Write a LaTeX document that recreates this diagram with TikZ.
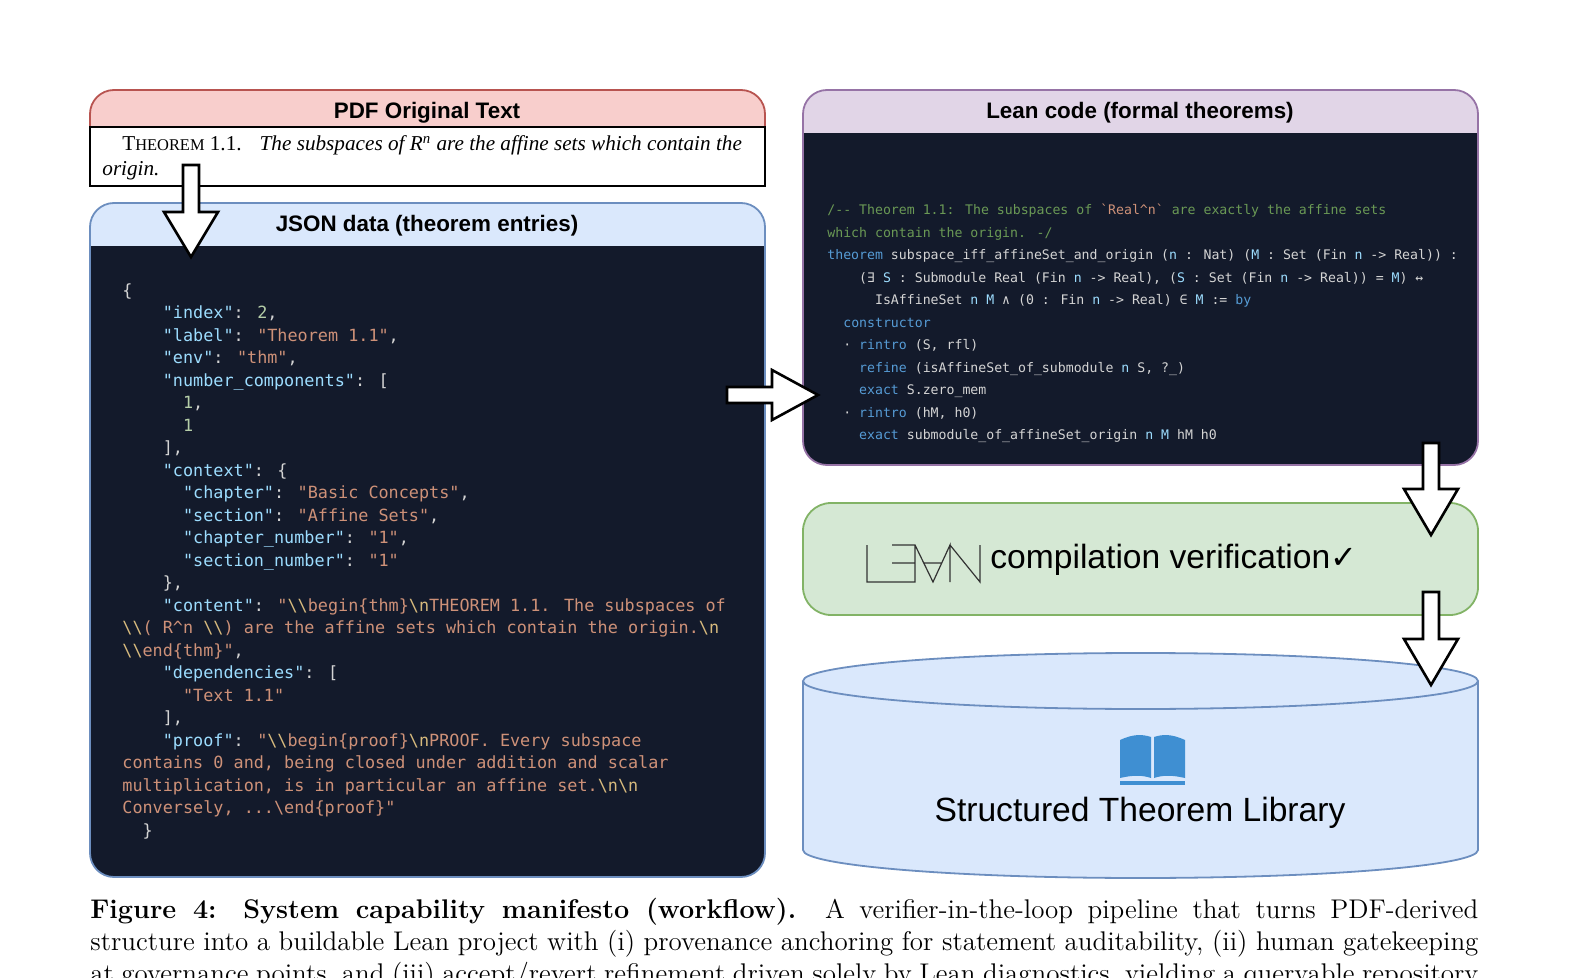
\documentclass[tikz,border=0pt]{standalone}
\usepackage{fontspec}
\setmainfont{Latin Modern Roman}
\newfontfamily\cmono[Ligatures=ResetAll]{DejaVu Sans Mono}
\newfontfamily\hsans{Liberation Sans}
\newfontfamily\tserif{Liberation Serif}
\newfontfamily\djv{DejaVu Sans}
\definecolor{codebg}{HTML}{131A2B}
\definecolor{jkey}{HTML}{9CDCFE}
\definecolor{jstr}{HTML}{CE9178}
\definecolor{jesc}{HTML}{D7BA7D}
\definecolor{jnum}{HTML}{B5CEA8}
\definecolor{jtxt}{HTML}{D4D4D4}
\definecolor{lcom}{HTML}{6A9955}
\definecolor{lkw}{HTML}{569CD6}
\definecolor{lvar}{HTML}{9CDCFE}
\definecolor{redfill}{HTML}{F8CECC}
\definecolor{redline}{HTML}{B85450}
\definecolor{bluefill}{HTML}{DAE8FC}
\definecolor{blueline}{HTML}{6C8EBF}
\definecolor{purfill}{HTML}{E1D5E7}
\definecolor{purline}{HTML}{9673A6}
\definecolor{grnfill}{HTML}{D5E8D4}
\definecolor{grnline}{HTML}{82B366}
\definecolor{bookblue}{HTML}{3F8FD2}
\newcommand\ind[1]{\hspace*{#1\fontcharwd\font`\x}}
\newcommand\jk[1]{\textcolor{jkey}{#1}}
\newcommand\js[1]{\textcolor{jstr}{#1}}
\newcommand\je[1]{\textcolor{jesc}{#1}}
\newcommand\jn[1]{\textcolor{jnum}{#1}}
\newcommand\lc[1]{\textcolor{lcom}{#1}}
\newcommand\lk[1]{\textcolor{lkw}{#1}}
\newcommand\lv[1]{\textcolor{lvar}{#1}}
\newcommand\bs{\textbackslash}
\newcommand\lb{\{}
\newcommand\rb{\}}
\tikzset{
  hdr/.style={font=\hsans\bfseries\fontsize{11.2}{13}\selectfont, text=black},
  blockarrow/.style={draw=black, fill=white, line width=1.3pt, line join=miter},
  jsoncode/.style={anchor=north west, align=left, inner sep=0, text=jtxt,
    font=\cmono\fontsize{8.4}{11.25}\selectfont},
  leancode/.style={anchor=north west, align=left, inner sep=0, text=jtxt,
    font=\cmono\fontsize{6.6}{11.25}\selectfont},
}
\begin{document}
\begin{tikzpicture}[x=0.5pt,y=-0.5pt]
\useasboundingbox (0,0) rectangle (1585,978);
% ---------- PDF box
\fill[redfill,rounded corners=12] (90,90) rectangle (765,127);
\fill[redfill] (90,110) rectangle (765,127);
\draw[redline,line width=0.9pt,rounded corners=12] (90,127) -- (90,90) -- (765,90) -- (765,127);
\draw[black,line width=1pt,fill=white] (90,127) rectangle (765,186);
\node[hdr] (pdfh) at (427,113) {PDF Original Text};
\node[anchor=base west,inner sep=0,font=\tserif\fontsize{10.6}{12}\selectfont] (pdfl1) at (122,151)
  {T{\fontsize{8.2}{10}\selectfont HEOREM} 1.1.\hspace{9pt}\itshape The subspaces of R\textsuperscript{n} are the affine sets which contain the};
\node[anchor=base west,inner sep=0,font=\tserif\fontsize{10.6}{12}\selectfont\itshape] (pdfl2) at (102,176) {origin.};
% ---------- JSON box
\fill[codebg,rounded corners=12] (90,203) rectangle (765,877);
\fill[bluefill,rounded corners=12] (90,203) rectangle (765,246);
\fill[bluefill] (90,225) rectangle (765,246);
\draw[blueline,line width=0.9pt,rounded corners=12] (90,203) rectangle (765,877);
\node[hdr] (jsonh) at (427,226) {JSON data (theorem entries)};
\node[jsoncode] (json) at (122,283) {%
\{\\
\ind4\jk{"index"}: \jn{2},\\
\ind4\jk{"label"}: \js{"Theorem 1.1"},\\
\ind4\jk{"env"}: \js{"thm"},\\
\ind4\jk{"number\_components"}: [\\
\ind6\jn{1},\\
\ind6\jn{1}\\
\ind4],\\
\ind4\jk{"context"}: \{\\
\ind6\jk{"chapter"}: \js{"Basic Concepts"},\\
\ind6\jk{"section"}: \js{"Affine Sets"},\\
\ind6\jk{"chapter\_number"}: \js{"1"},\\
\ind6\jk{"section\_number"}: \js{"1"}\\
\ind4\},\\
\ind4\jk{"content"}: \js{"}\je{\bs\bs}\js{begin\lb thm\rb}\je{\bs n}\js{THEOREM 1.1. The subspaces of}\\
\je{\bs\bs}\js{( R\textasciicircum n }\je{\bs\bs}\js{) are the affine sets which contain the origin.}\je{\bs n}\\
\je{\bs\bs}\js{end\lb thm\rb"},\\
\ind4\jk{"dependencies"}: [\\
\ind6\js{"Text 1.1"}\\
\ind4],\\
\ind4\jk{"proof"}: \js{"}\je{\bs\bs}\js{begin\lb proof\rb}\je{\bs n}\js{PROOF. Every subspace}\\
\js{contains 0 and, being closed under addition and scalar}\\
\js{multiplication, is in particular an affine set.}\je{\bs n\bs n}\\
\js{Conversely, ...\bs end\lb proof\rb"}\\
\ind2\}};
% ---------- Lean box
\fill[codebg,rounded corners=12] (803,90) rectangle (1478,465);
\fill[purfill,rounded corners=12] (803,90) rectangle (1478,133);
\fill[purfill] (803,112) rectangle (1478,133);
\draw[purline,line width=0.9pt,rounded corners=12] (803,90) rectangle (1478,465);
\node[hdr] (leanh) at (1140,113) {Lean code (formal theorems)};
\node[leancode] (lean) at (827,204) {%
\lc{/-{}- Theorem 1.1: The subspaces of }\js{\textasciigrave{}Real\textasciicircum{}n\textasciigrave{}}\ \lc{are exactly the affine sets}\\
\lc{which contain the origin. -/}\\
\lk{theorem} subspace\_iff\_affineSet\_and\_origin (\lv{n} : Nat) (\lv{M} : Set (Fin \lv{n} -> Real)) :\\
\ind4(∃ \lv{S} : Submodule Real (Fin \lv{n} -> Real), (\lv{S} : Set (Fin \lv{n} -> Real)) = \lv{M}) ↔\\
\ind6IsAffineSet \lv{n} \lv{M} ∧ (0 : Fin \lv{n} -> Real) ∈ \lv{M} := \lk{by}\\
\ind2\lk{constructor}\\
\ind2· \lk{rintro} (S, rfl)\\
\ind4\lk{refine} (isAffineSet\_of\_submodule \lv{n} S, ?\_)\\
\ind4\lk{exact} S.zero\_mem\\
\ind2· \lk{rintro} (hM, h0)\\
\ind4\lk{exact} submodule\_of\_affineSet\_origin \lv{n} \lv{M} hM h0};
% ---------- green box
\draw[grnline,fill=grnfill,line width=0.9pt,rounded corners=14] (803,503) rectangle (1478,615);
\draw[black!80,line width=0.6pt] (867,545) -- (867,582) -- (915,582) -- (915,545) -- (892,545)
  (892,563) -- (915,563)
  (915,545) -- (933,582) -- (950,545) -- (950,582)
  (924,563) -- (942,563)
  (950,545) -- (980,582) -- (980,545);
\node[anchor=west,inner sep=0,font=\hsans\fontsize{16.8}{19}\selectfont] (verif) at (990,560)
  {compilation verification{\djv\bfseries\fontsize{16}{18}\selectfont ✓}};
% ---------- cylinder
\fill[bluefill] (803,681) rectangle (1478,850);
\fill[bluefill] (1140.5,850) ellipse [x radius=337.5,y radius=28];
\begin{scope}
\clip (795,850) rectangle (1486,890);
\draw[blueline,line width=0.9pt] (1140.5,850) ellipse [x radius=337.5,y radius=28];
\end{scope}
\draw[blueline,line width=0.9pt] (803,681) -- (803,850) (1478,681) -- (1478,850);
\draw[blueline,fill=bluefill,line width=0.9pt] (1140.5,681) ellipse [x radius=337.5,y radius=28];
% book icon
\fill[bookblue] (1120,740) .. controls (1133,734) and (1142,734) .. (1151,737) -- (1151,778)
  .. controls (1142,775) and (1133,775) .. (1120,778) -- cycle;
\fill[bookblue] (1185,740) .. controls (1172,734) and (1163,734) .. (1154,737) -- (1154,778)
  .. controls (1163,775) and (1172,775) .. (1185,778) -- cycle;
\fill[bookblue] (1120,781) rectangle (1185,785);
\node[font=\hsans\fontsize{16.8}{19}\selectfont] (lib) at (1140,813) {Structured Theorem Library};
% ---------- block arrows
\draw[blockarrow] (183,165) -- (199,165) -- (199,212) -- (218,212) -- (191,257) -- (164,212) -- (183,212) -- cycle;
\draw[blockarrow] (727,387) -- (772,387) -- (772,370) -- (818,395) -- (772,420) -- (772,403) -- (727,403) -- cycle;
\draw[blockarrow] (1423,443) -- (1439,443) -- (1439,489) -- (1458,489) -- (1431,535) -- (1404,489) -- (1423,489) -- cycle;
\draw[blockarrow] (1423,592) -- (1439,592) -- (1439,639) -- (1458,639) -- (1431,685) -- (1404,639) -- (1423,639) -- cycle;
% ---------- caption
\node[anchor=north west,inner sep=0,text width=694pt,align=justify,
  font=\fontsize{13.5}{16}\selectfont] (cap) at (90,898)
  {\textbf{Figure 4: System capability manifesto (workflow).} A verifier-in-the-loop pipeline that turns PDF-derived\linebreak
  structure into a buildable Lean project with (i) provenance anchoring for statement auditability, (ii) human gatekeeping\linebreak
  at governance points, and (iii) accept/revert refinement driven solely by Lean diagnostics, yielding a queryable repository};
\end{tikzpicture}
\end{document}
